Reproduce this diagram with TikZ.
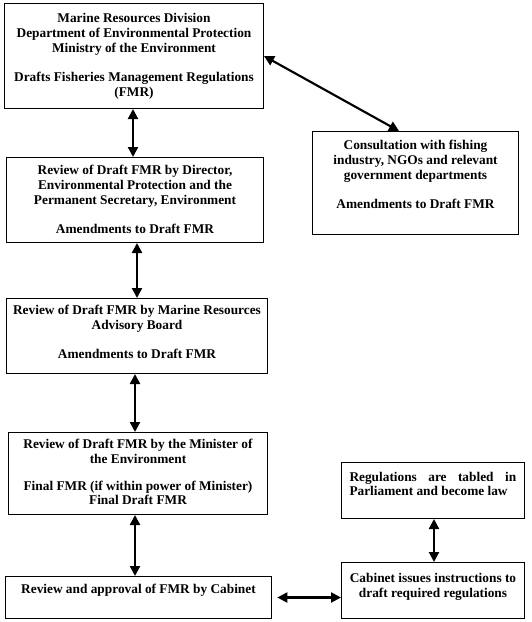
\documentclass[tikz,border=0pt]{standalone}
\usepackage{fontspec}
\setmainfont{Liberation Serif}
\usetikzlibrary{arrows.meta}
\newcommand{\boxt}[4]{\parbox[c][#2][t]{#1}{\centering\vspace*{#3}#4\par}}
\begin{document}
\begin{tikzpicture}[x=0.75pt,y=-0.75pt,
  box/.style={draw, line width=0.75pt, inner sep=0pt, anchor=north west,
    font=\fontsize{10}{11}\selectfont\bfseries},
  arr/.style={line width=1.6pt,
    {Triangle[length=7.5pt,width=7.5pt]}-{Triangle[length=7.5pt,width=7.5pt]}}]
\useasboundingbox (0,0) rectangle (532,622);

\node[box] (b1) at (4,3) {\boxt{194.25pt}{78.75pt}{7.5pt}{Marine Resources Division\\
  Department of Environmental Protection\\ Ministry of the Environment\\[11pt]
  Drafts Fisheries Management Regulations\\ (FMR)}};

\node[box] (b2) at (6,157) {\boxt{192.75pt}{63.75pt}{6pt}{Review of Draft FMR by Director,\\
  Environmental Protection and the\\ Permanent Secretary, Environment\\[11pt]
  Amendments to Draft FMR}};

\node[box] (cons) at (312,131) {\boxt{154.5pt}{77.25pt}{6.75pt}{Consultation with fishing\\
  industry, NGOs and relevant\\ government departments\\[11pt]
  Amendments to Draft FMR}};

\node[box] (b3) at (6,298) {\boxt{195.75pt}{56.25pt}{5.25pt}{Review of Draft FMR by Marine Resources\\
  Advisory Board\\[11pt] Amendments to Draft FMR}};

\node[box] (b4) at (8,432) {\boxt{194.25pt}{61.5pt}{5.25pt}{Review of Draft FMR by the Minister of\\
  the Environment\\[9pt] Final FMR (if within power of Minister)\\ Final Draft FMR}};

\node[box] (b5) at (5,576) {\boxt{199.5pt}{31.5pt}{6pt}{Review and approval of FMR by Cabinet}};

\node[box] (regs) at (341,462) {\parbox[c][42pt][t]{137.25pt}{\vspace*{7pt}\hspace*{6pt}%
  \parbox[t]{125pt}{\noindent\makebox[\linewidth][s]{Regulations are tabled in}\par
  \noindent Parliament and become law}}};

\node[box] (cab) at (341,562) {\boxt{137.25pt}{42pt}{8pt}{Cabinet issues instructions to\\
  draft required regulations}};

\coordinate (x1) at (133,0);
\coordinate (x2) at (137,0);
\coordinate (x3) at (135,0);
\coordinate (xd) at (399,0);
\coordinate (xr) at (434,0);

\draw[arr] (x1 |- b1.south) -- (x1 |- b2.north);
\draw[arr] (x2 |- b2.south) -- (x2 |- b3.north);
\draw[arr] (x3 |- b3.south) -- (x3 |- b4.north);
\draw[arr] (x3 |- b4.south) -- (x3 |- b5.north);
\draw[arr] (b1.east) -- (xd |- cons.north);
\draw[arr] ([xshift=4pt]b5.east) -- (b5.east -| cab.west);
\draw[arr] (xr |- regs.south) -- (xr |- cab.north);
\end{tikzpicture}
\end{document}
